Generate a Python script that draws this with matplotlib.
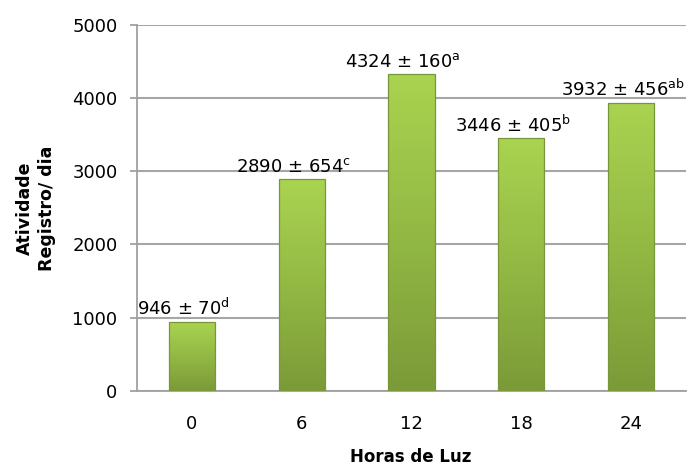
import matplotlib
matplotlib.use('Agg')
import matplotlib.pyplot as plt
import numpy as np
from matplotlib.colors import LinearSegmentedColormap

categories = ['0', '6', '12', '18', '24']
means = [946, 2890, 4324, 3446, 3932]
errors = [70, 654, 160, 405, 456]
letters = ['d', 'c', 'a', 'b', 'ab']
yticks = [0, 1000, 2000, 3000, 4000, 5000]

W, H = 688, 466
fig = plt.figure(figsize=(W / 100, H / 100), dpi=100)
ax = fig.add_axes([137 / W, 75 / H, 549 / W, 366.5 / H])

x = np.arange(len(categories))
bars = ax.bar(x, means, width=0.42, color='#98bf45', edgecolor='none', zorder=3)
cmap = LinearSegmentedColormap.from_list('g', ['#7b9a38', '#93b944', '#aad350'])
grad = np.linspace(0, 1, 256).reshape(-1, 1)
for b in bars:
    x0, y0, w, h = b.get_x(), b.get_y(), b.get_width(), b.get_height()
    im = ax.imshow(grad, cmap=cmap, extent=[x0, x0 + w, y0, y0 + h],
                   origin='lower', aspect='auto', zorder=3.5)
    im.set_clip_path(b)
ax.bar(x, means, width=0.42, facecolor='none', edgecolor='#78973a', linewidth=0.9, zorder=4)

ax.set_xlim(-0.5, len(categories) - 0.5)
ax.set_ylim(0, 5000)
ax.set_xticks(x)
ax.set_xticklabels(categories)
ax.set_yticks(yticks)
ax.set_yticklabels([str(v) for v in yticks])

ax.yaxis.grid(True, color='#a6a6a6', linewidth=1.5, zorder=0)
ax.set_axisbelow(True)
for s in ['top', 'right']:
    ax.spines[s].set_visible(False)
for s in ['left', 'bottom']:
    ax.spines[s].set_color('#a0a0a0')
    ax.spines[s].set_linewidth(1.3)

ax.tick_params(axis='y', length=5, color='#a0a0a0', width=1.3, labelsize=13, pad=9)
ax.tick_params(axis='x', length=0, labelsize=13, pad=17)

for xi, m, e, l in zip(x, means, errors, letters):
    ax.annotate(f'{m} ± {e}' + r'$^{\mathrm{' + l + '}}$', xy=(xi, m),
                xytext=(-6, 5), textcoords='offset points',
                ha='center', va='baseline', fontsize=13, zorder=5)

fig.text(411 / W, 1 - 457 / H, 'Horas de Luz', ha='center', va='center',
         fontsize=12, fontweight='bold')
fig.text(36 / W, 1 - 208 / H, 'Atividade\nRegistro/ dia', ha='center', va='center',
         rotation=90, fontsize=12.5, fontweight='bold', linespacing=1.3,
         multialignment='center')

fig.savefig('out.png', dpi=100)
